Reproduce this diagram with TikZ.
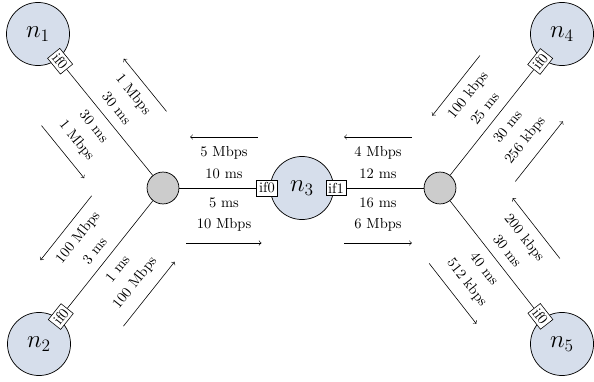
\documentclass[tikz,border=0pt]{standalone}
\usetikzlibrary{calc}
\definecolor{hostblue}{rgb}{0.84,0.87,0.92}
\definecolor{routergray}{gray}{0.8}
\tikzset{
  host/.style={circle, draw, line width=0.5pt, fill=hostblue, minimum size=43.5pt, inner sep=0pt, font=\LARGE},
  router/.style={circle, draw, line width=0.5pt, fill=routergray, minimum size=22pt, inner sep=0pt},
  ifbox/.style={draw, fill=white, inner xsep=1.6pt, inner ysep=1.8pt, font=\normalsize},
  lbl/.style={anchor=base, inner ysep=0pt, inner xsep=6.9pt, font=\normalsize},
  link/.style={draw, thin},
  flow/.style={draw, thin, ->}
}
% #1 xA, #2 yA, #3 xB, #4 yB, #5 shift along A->B, #6 top far, #7 top near, #8 bottom near, #9 bottom far
\newcommand\lnklbl[9]{%
  \pgfmathsetmacro\lang{atan2(#4-#2,#3-#1)}%
  \pgfmathsetmacro\lmx{(#1+#3)/2}%
  \pgfmathsetmacro\lmy{(#2+#4)/2}%
  \begin{scope}[shift={(\lmx,\lmy)}, rotate=\lang, transform shape]
    \node[lbl] (tf) at (#5,31.7) {#6};
    \node[lbl] (tn) at (#5,9.7) {#7};
    \node[lbl] (bn) at (#5,-19.3) {#8};
    \node[lbl] (bf) at (#5,-41) {#9};
    \draw[flow] ($(tf.base east)+(0,19.3)$) coordinate (ts) -- ($(tf.base west)+(0,19.3)$) coordinate (te);
    \draw[flow] ($(bf.base west)+(0,-14)$) coordinate (bs) -- ($(bf.base east)+(0,-14)$) coordinate (be);
  \end{scope}}
\begin{document}
\begin{tikzpicture}[x=0.69pt,y=0.69pt]
\useasboundingbox (0,0) rectangle (594,381);
% hosts and routers
\node[host] (n1) at (38,347) {$n_1$};
\node[host] (n2) at (39,37) {$n_2$};
\node[host] (n3) at (302,193) {$n_3$};
\node[host] (n4) at (562,347) {$n_4$};
\node[host] (n5) at (562,37) {$n_5$};
\node[router] (L) at (163,193) {};
\node[router] (R) at (440,193) {};
% angles of the links
\pgfmathsetmacro\aOne{atan2(193-347,163-38)}
\pgfmathsetmacro\aTwo{atan2(193-37,163-39)}
\pgfmathsetmacro\aFour{atan2(347-193,562-440)}
\pgfmathsetmacro\aFive{atan2(37-193,562-440)}
% interfaces
\node[ifbox, rotate=\aOne] (n1if) at ($(n1)!24.2pt!(L)$) {if0};
\node[ifbox, rotate=\aTwo] (n2if) at ($(n2)!24.2pt!(L)$) {if0};
\node[ifbox] (n3if0) at ($(n3)!24.2pt!(L)$) {if0};
\node[ifbox] (n3if1) at ($(n3)!23.5pt!(R)$) {if1};
\node[ifbox, rotate=\aFour] (n4if) at ($(n4)!24.2pt!(R)$) {if0};
\node[ifbox, rotate=\aFive] (n5if) at ($(n5)!24.2pt!(R)$) {if0};
% links
\draw[link] (L) -- (n1if);
\draw[link] (L) -- (n2if);
\draw[link] (L) -- (n3if0);
\draw[link] (n3if1) -- (R);
\draw[link] (R) -- (n4if);
\draw[link] (R) -- (n5if);
% link labels
\lnklbl{38}{347}{163}{193}{8}{1 Mbps}{30 ms}{30 ms}{1 Mbps}
\lnklbl{39}{37}{163}{193}{8}{100 Mbps}{3 ms}{1 ms}{100 Mbps}
\lnklbl{163}{193}{302}{193}{-8.5}{5 Mbps}{10 ms}{5 ms}{10 Mbps}
\lnklbl{302}{193}{440}{193}{7}{4 Mbps}{12 ms}{16 ms}{6 Mbps}
\lnklbl{440}{193}{562}{347}{-8}{100 kbps}{25 ms}{30 ms}{256 kbps}
\lnklbl{440}{193}{562}{37}{-8}{200 kbps}{30 ms}{40 ms}{512 kbps}
\end{tikzpicture}
\end{document}
